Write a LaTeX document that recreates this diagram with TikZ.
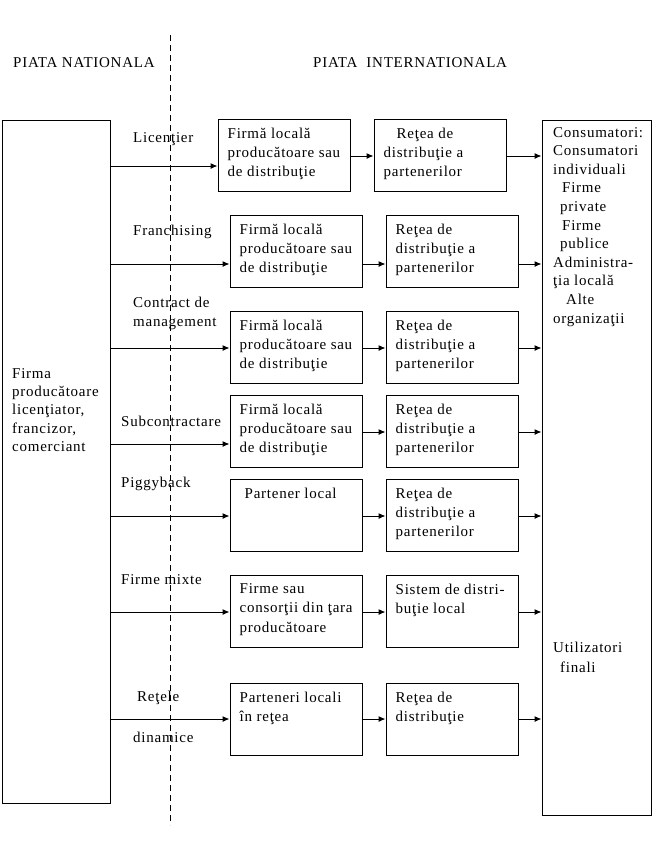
\documentclass[tikz,border=0pt]{standalone}
\usepackage{fontspec}
\setmainfont{Liberation Serif}[LetterSpace=5]
\usepackage{tikz}
\usetikzlibrary{arrows.meta}

\begin{document}
\begin{tikzpicture}[
    x = 1pt, y = -1pt,
    font = \fontsize{15}{19.3}\selectfont,
    box/.style = {rectangle,
      draw = black,
      line width = 1pt,
      minimum width = 132pt,
      minimum height = 72pt},
    bigbox/.style = {rectangle,
      draw = black,
      line width = 1pt},
    txt/.style = {anchor = north west,
      align = left,
      inner sep = 0pt},
    boxtext/.style = {txt,
      xshift = 10pt,
      yshift = -9pt},
    lbl/.style = {anchor = west,
      align = left,
      inner sep = 0pt},
    way/.style = {line width = 1pt, -{Latex[length = 7pt, width = 6pt]}},
  ]
  \useasboundingbox (0,0) rectangle (654,852);

  % the two markets
  \node[lbl] (nat) at (13,63) {PIATA NATIONALA};
  \node[lbl] (int) at (313,63) {PIATA \ INTERNATIONALA};
  \draw[line width = 1pt, dash pattern = on 6pt off 4pt] (170,35) -- (170,825);

  % this is the producer on the home market
  \node[bigbox,
      minimum width = 108pt,
      minimum height = 683pt] (prod) at (56,461.5) {};
  \node[txt, font = \fontsize{15}{18.3}\selectfont] (prodt) at (12,368)
    {Firma\\producătoare\\licenţiator,\\francizor,\\comerciant};

  % and the consumers abroad
  \node[bigbox,
      minimum width = 109pt,
      minimum height = 695pt] (cons) at (596.5,467.5) {};
  \node[txt, font = \fontsize{15}{18.6}\selectfont] (const) at (553,127)
    {Consumatori:\\Consumatori\\individuali\\\hspace*{9pt}Firme\\\hspace*{7pt}private\\
     \hspace*{9pt}Firme\\\hspace*{7pt}publice\\Administra-\\ţia locală\\\hspace*{13pt}Alte\\organizaţii};
  \node[txt, font = \fontsize{15}{20}\selectfont] (util) at (553,642)
    {Utilizatori\\\hspace*{7pt}finali};

  % ways of entering the market
  \node[lbl] (lic) at (133,139) {Licenţier};
  \node[lbl] (fra) at (133,232) {Franchising};
  \node[lbl, font = \fontsize{15}{19}\selectfont] (man) at (133,313) {Contract de\\management};
  \node[lbl] (sub) at (121,421) {Subcontractare};
  \node[lbl] (pig) at (121,484) {Piggyback};
  \node[lbl] (mix) at (121,580) {Firme mixte};
  \node[lbl] (ret) at (137,698) {Reţele};
  \node[lbl] (din) at (133,737) {dinamice};

  % local partners
  \node[box] (f1) at (284,155) {};
  \node[box] (f2) at (296,251) {};
  \node[box] (f3) at (296,347) {};
  \node[box] (f4) at (296,431) {};
  \node[box] (f5) at (296,515) {};
  \node[box] (f6) at (296,611) {};
  \node[box] (f7) at (296,719) {};

  \node[boxtext] (f1t) at (f1.north west) {Firmă locală\\producătoare sau\\de distribuţie};
  \node[boxtext] (f2t) at (f2.north west) {Firmă locală\\producătoare sau\\de distribuţie};
  \node[boxtext] (f3t) at (f3.north west) {Firmă locală\\producătoare sau\\de distribuţie};
  \node[boxtext] (f4t) at (f4.north west) {Firmă locală\\producătoare sau\\de distribuţie};
  \node[boxtext, xshift = 5pt] (f5t) at (f5.north west) {Partener local};
  \node[boxtext] (f6t) at (f6.north west) {Firme sau\\consorţii din ţara\\producătoare};
  \node[boxtext] (f7t) at (f7.north west) {Parteneri locali\\în reţea};

  % distribution networks
  \node[box] (d1) at (440,155) {};
  \node[box] (d2) at (452,251) {};
  \node[box] (d3) at (452,347) {};
  \node[box] (d4) at (452,431) {};
  \node[box] (d5) at (452,515) {};
  \node[box] (d6) at (452,611) {};
  \node[box] (d7) at (452,719) {};

  \node[boxtext] (d1t) at (d1.north west) {\hspace*{13pt}Reţea de\\distribuţie a\\partenerilor};
  \node[boxtext] (d2t) at (d2.north west) {Reţea de\\distribuţie a\\partenerilor};
  \node[boxtext] (d3t) at (d3.north west) {Reţea de\\distribuţie a\\partenerilor};
  \node[boxtext] (d4t) at (d4.north west) {Reţea de\\distribuţie a\\partenerilor};
  \node[boxtext] (d5t) at (d5.north west) {Reţea de\\distribuţie a\\partenerilor};
  \node[boxtext] (d6t) at (d6.north west) {Sistem de distri-\\buţie local};
  \node[boxtext] (d7t) at (d7.north west) {Reţea de\\distribuţie};

  % arrows, row by row
  \foreach \n/\yin/\ymid in {1/166/156, 2/264/264, 3/348/348, 4/444/432,
                             5/516/516, 6/612/612, 7/719/719} {
    \draw[way] (prod.east |- 0,\yin) -- (f\n.west |- 0,\yin);
    \draw[way] (f\n.east |- 0,\ymid) -- (d\n.west |- 0,\ymid);
    \draw[way] (d\n.east |- 0,\ymid) -- (cons.west |- 0,\ymid);
  }
\end{tikzpicture}
\end{document}
